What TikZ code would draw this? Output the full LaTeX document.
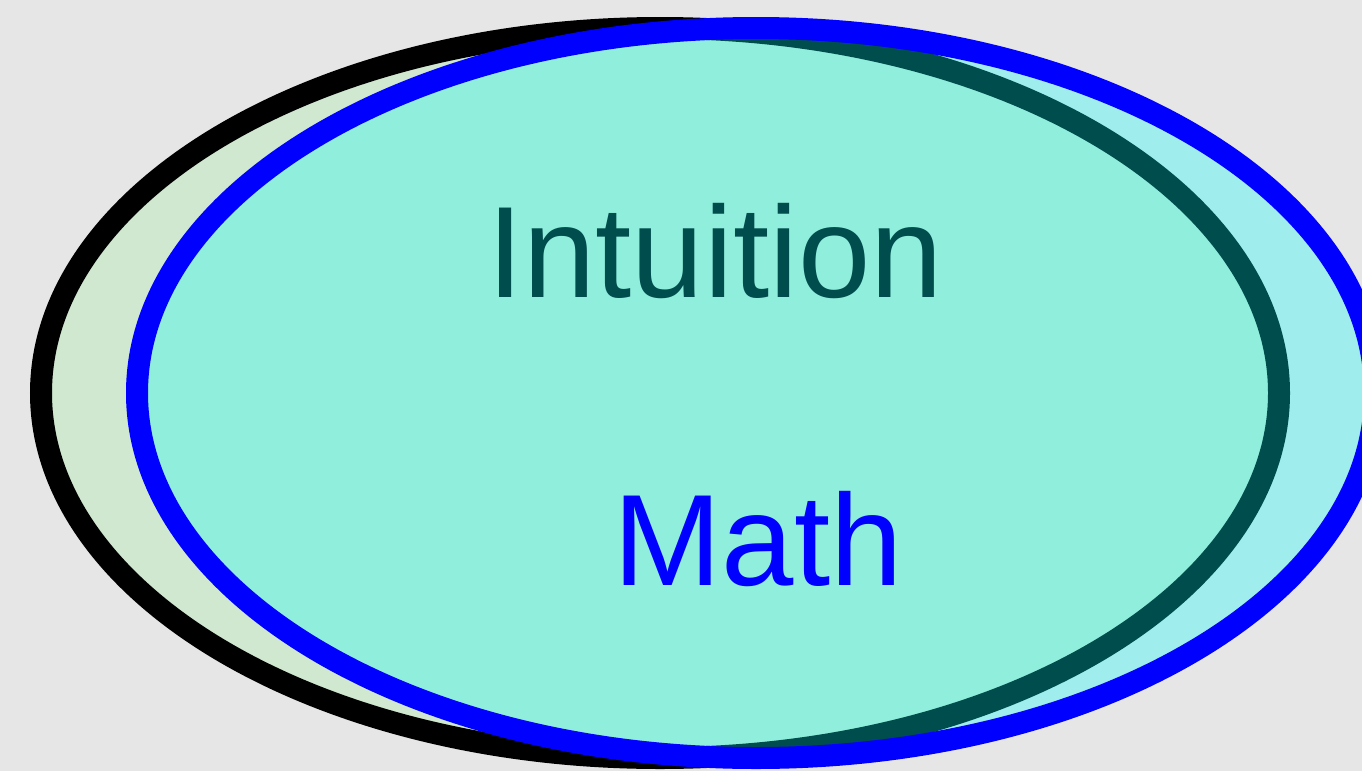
\documentclass[tikz,border=0pt]{standalone}
\usepackage{fontspec}
\setmainfont{Liberation Sans}
\definecolor{bgray}{RGB}{230,230,230}
\definecolor{lgreen}{RGB}{207,232,207}
\definecolor{mblue}{RGB}{0,0,255}
\definecolor{mcyan}{RGB}{0,255,255}
\begin{document}
\begin{tikzpicture}[x=1pt,y=-1pt,
  ring/.style={line width=22pt},
  label/.style={font=\fontsize{130}{156}\selectfont, inner sep=0pt, anchor=base}]
\fill[bgray] (0,0) rectangle (1362,771);
\useasboundingbox (0,0) rectangle (1362,771);
\coordinate (cI) at (660,393);
\coordinate (cM) at (756,393);
\draw[ring, black, fill=lgreen] (cI) ellipse [x radius=619, y radius=365];
\node[label, text=black] (intuition) at (715,297) {Intuition};
\fill[mcyan, fill opacity=0.3] (cM) ellipse [x radius=619, y radius=365];
\draw[ring, mblue] (cM) ellipse [x radius=619, y radius=365];
\node[label, text=mblue] (math) at (758,585) {Math};
\end{tikzpicture}
\end{document}
